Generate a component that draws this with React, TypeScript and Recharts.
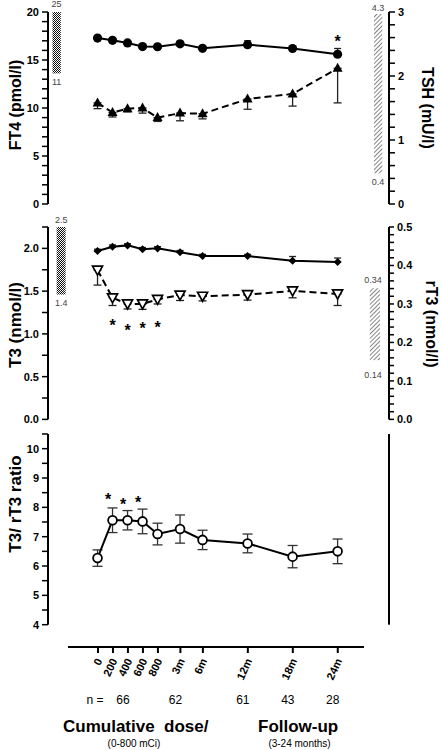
import React from "react";
import {
  ErrorBar,
  Line,
  LineChart,
  ReferenceArea,
  ReferenceDot,
  XAxis,
  YAxis
} from "recharts";

if (typeof document !== "undefined") {
  document.body.style.margin = "0";
  document.body.style.background = "#fff";
}

const FONT = "'Liberation Sans', Arial, sans-serif";

// x: cumulative dose (mCi) then follow-up (months)
const doses = [0, 200, 400, 600, 800];
const months = [3, 6, 12, 18, 24];
const xLabels = ["0", "200", "400", "600", "800", "3m", "6m", "12m", "18m", "24m"];

// panel 1
const ft4 = [17.28, 17.05, 16.78, 16.4, 16.38, 16.68, 16.22, 16.6, 16.2, 15.6];
const ft4Err = [0.2, 0.2, 0.2, 0.2, 0.2, 0.2, 0.2, 0.4, 0.2, 0.6];
const tsh = [1.58, 1.43, 1.49, 1.5, 1.35, 1.42, 1.41, 1.64, 1.72, 2.12];
const tshErr = [0.09, 0.07, 0.05, 0.08, 0.06, 0.12, 0.08, 0.16, 0.19, 0.54];

// panel 2
const t3 = [1.97, 2.02, 2.035, 1.99, 2.0, 1.955, 1.91, 1.91, 1.855, 1.84];
const t3Err = [0.02, 0.02, 0.02, 0.02, 0.02, 0.02, 0.02, 0.02, 0.05, 0.047];
const rt3 = [0.388, 0.316, 0.3, 0.3, 0.312, 0.323, 0.32, 0.324, 0.334, 0.326];
const rt3Err = [0.039, 0.02, 0.013, 0.014, 0.012, 0.014, 0.012, 0.014, 0.018, 0.03];

// panel 3
const ratio = [6.27, 7.56, 7.56, 7.52, 7.09, 7.26, 6.89, 6.77, 6.32, 6.5];
const ratioErr = [0.28, 0.42, 0.33, 0.42, 0.37, 0.48, 0.33, 0.32, 0.38, 0.42];

// significance marks
const ft4StarAt = ["24m"];
const ft4StarY = [17.3];
const t3StarAt = ["200", "400", "600", "800"];
const t3StarY = [1.14, 1.08, 1.1, 1.115];
const ratioStarAt = ["200", "400", "600"];
const ratioStarY = [8.37, 8.23, 8.3];

// patients per time point
const nCounts = ["66", "62", "61", "43", "28"];
const nAt = ["400", "3m", "12m", "18m", "24m"];

// normal ranges (label text + extent of the bar in axis units)
const ft4Range = ["25", "11"];
const ft4Bar = [13.6, 20];
const tshRange = ["4.3", "0.4"];
const tshBar = [0.48, 2.97];
const t3Range = ["2.5", "1.4"];
const t3Bar = [1.46, 2.25];
const rt3Range = ["0.34", "0.14"];
const rt3Bar = [0.154, 0.341];

const xPos = [...doses.map((d) => d / 100), ...months.map((m) => 8 + m)];
const posOf = (label: string) => xPos[xLabels.indexOf(label)];

const rows = xLabels.map((label, i) => ({
  label,
  x: xPos[i],
  ft4: ft4[i],
  ft4Err: [0, ft4Err[i]],
  tsh: tsh[i],
  tshErr: [tshErr[i], 0],
  t3: t3[i],
  t3Err: [0, t3Err[i]],
  rt3: rt3[i],
  rt3Err: [rt3Err[i], 0],
  ratio: ratio[i],
  ratioErr: ratioErr[i]
}));

const X_DOMAIN = [-6.6, 38.85];

const steps = (lo: number, hi: number, step: number) =>
  Array.from({ length: Math.round((hi - lo) / step) + 1 }, (_, i) =>
    Math.round((lo + i * step) * 1000) / 1000
  );

const majorOnly = (every: number, digits: number) => (v: number) => {
  const r = v / every;
  return Math.abs(r - Math.round(r)) < 1e-6 ? v.toFixed(digits) : "";
};

const axisProps: any = {
  axisLine: { stroke: "#000", strokeWidth: 2 },
  tickLine: { stroke: "#000", strokeWidth: 1.5 },
  tickSize: 6,
  tickMargin: 3,
  interval: 0,
  allowDataOverflow: true,
  tick: { fontSize: 11, fontWeight: 700, fill: "#000", fontFamily: FONT }
};

function CircleDot(props: any) {
  const { cx, cy } = props;
  if (cx == null || cy == null) return null;
  return <circle cx={cx} cy={cy} r={4.6} fill="#000" />;
}

function OpenCircle(props: any) {
  const { cx, cy } = props;
  if (cx == null || cy == null) return null;
  return <circle cx={cx} cy={cy} r={4.4} fill="#fff" stroke="#000" strokeWidth={1.8} />;
}

function TriUp(props: any) {
  const { cx, cy } = props;
  if (cx == null || cy == null) return null;
  return (
    <polygon
      points={`${cx},${cy - 5.5} ${cx - 5},${cy + 3.5} ${cx + 5},${cy + 3.5}`}
      fill="#000"
    />
  );
}

function TriDownOpen(props: any) {
  const { cx, cy } = props;
  if (cx == null || cy == null) return null;
  return (
    <polygon
      points={`${cx - 5},${cy - 4} ${cx + 5},${cy - 4} ${cx},${cy + 5}`}
      fill="#fff"
      stroke="#000"
      strokeWidth={1.7}
    />
  );
}

function Diamond(props: any) {
  const { cx, cy } = props;
  if (cx == null || cy == null) return null;
  return (
    <polygon
      points={`${cx},${cy - 4} ${cx + 4},${cy} ${cx},${cy + 4} ${cx - 4},${cy}`}
      fill="#000"
    />
  );
}

function Star(dx: number) {
  return (p: any) => (
    <text
      x={p.cx + dx}
      y={p.cy + 9}
      textAnchor="middle"
      fontSize={16}
      fontWeight={700}
      fontFamily={FONT}
      fill="#000"
    >
      *
    </text>
  );
}

function RangeLabel(props: any) {
  const { viewBox, hi, lo, topGap, bottomGap, dx = 0 } = props;
  if (!viewBox) return null;
  const cx = viewBox.x + viewBox.width / 2 + dx;
  const style = { fontSize: 9, fill: "#444", fontFamily: FONT };
  return (
    <g>
      <text x={cx} y={viewBox.y - topGap} textAnchor="middle" {...style}>
        {hi}
      </text>
      <text x={cx} y={viewBox.y + viewBox.height + bottomGap} textAnchor="middle" {...style}>
        {lo}
      </text>
    </g>
  );
}

function XTick(props: any) {
  const { x, y, payload } = props;
  const i = xPos.indexOf(payload.value);
  const label = xLabels[i];
  const n = nAt.indexOf(label);
  const nStyle = { fontSize: 12, fill: "#000", fontFamily: FONT };
  return (
    <g>
      <text
        transform={`translate(${x + 1},${y + 6}) rotate(-65)`}
        textAnchor="end"
        dominantBaseline="central"
        fontSize={11}
        fontWeight={700}
        fontFamily={FONT}
        fill="#000"
      >
        {label}
      </text>
      {i === 0 && (
        <text x={x + 5.5} y={y + 47} textAnchor="end" dominantBaseline="central" {...nStyle}>
          n =
        </text>
      )}
      {n >= 0 && (
        <text x={x - 5} y={y + 47} textAnchor="middle" dominantBaseline="central" {...nStyle}>
          {nCounts[n]}
        </text>
      )}
    </g>
  );
}

const Patterns = () => (
  <defs>
    <pattern id="checker" width="2" height="2" patternUnits="userSpaceOnUse">
      <rect x="0" y="0" width="1" height="1" fill="#111" />
      <rect x="1" y="1" width="1" height="1" fill="#111" />
    </pattern>
    <pattern
      id="hatch"
      width="3"
      height="3"
      patternUnits="userSpaceOnUse"
      patternTransform="rotate(45)"
    >
      <line x1="0" y1="0" x2="0" y2="3" stroke="#333" strokeWidth="1.2" />
    </pattern>
  </defs>
);

const errProps = { width: 4, stroke: "#222", strokeWidth: 1.3, direction: "y" as const };

export default function App() {
  return (
    <div
      style={{
        position: "relative",
        width: 441,
        height: 750,
        background: "#fff",
        fontFamily: FONT,
        overflow: "hidden"
      }}
    >
      {/* FT4 / TSH */}
      <div style={{ position: "absolute", left: 0, top: 0 }}>
        <LineChart width={441} height={214} data={rows} margin={{ top: 12, right: 0, bottom: 10, left: 0 }}>
          <Patterns />
          <XAxis type="number" dataKey="x" domain={X_DOMAIN} hide allowDataOverflow />
          <YAxis
            yAxisId="ft4"
            orientation="left"
            width={48}
            domain={[0, 20]}
            ticks={steps(0, 20, 1)}
            tickFormatter={majorOnly(5, 0)}
            {...axisProps}
          />
          <YAxis
            yAxisId="tsh"
            orientation="right"
            width={52}
            domain={[0, 3]}
            ticks={steps(0, 3, 0.2)}
            tickFormatter={majorOnly(1, 0)}
            {...axisProps}
          />
          <ReferenceArea
            yAxisId="ft4"
            x1={-6.0}
            x2={-4.9}
            y1={ft4Bar[0]}
            y2={ft4Bar[1]}
            fill="url(#checker)"
            fillOpacity={1}
            stroke="none"
            ifOverflow="visible"
            label={<RangeLabel hi={ft4Range[0]} lo={ft4Range[1]} topGap={5} bottomGap={12} />}
          />
          <ReferenceArea
            yAxisId="tsh"
            x1={36.85}
            x2={37.95}
            y1={tshBar[0]}
            y2={tshBar[1]}
            fill="url(#hatch)"
            fillOpacity={1}
            stroke="none"
            ifOverflow="visible"
            label={<RangeLabel hi={tshRange[0]} lo={tshRange[1]} topGap={3} bottomGap={12} />}
          />
          <Line
            yAxisId="tsh"
            dataKey="tsh"
            stroke="#000"
            strokeWidth={2}
            strokeDasharray="7 4"
            dot={(p: any) => <TriUp key={p.index} {...p} />}
            isAnimationActive={false}
          >
            <ErrorBar dataKey="tshErr" {...errProps} />
          </Line>
          <Line
            yAxisId="ft4"
            dataKey="ft4"
            stroke="#000"
            strokeWidth={2}
            dot={(p: any) => <CircleDot key={p.index} {...p} />}
            isAnimationActive={false}
          >
            <ErrorBar dataKey="ft4Err" {...errProps} width={3.5} />
          </Line>
          {ft4StarAt.map((at, i) => (
            <ReferenceDot key={at} yAxisId="ft4" x={posOf(at)} y={ft4StarY[i]} r={0} shape={Star(0)} />
          ))}
        </LineChart>
      </div>

      {/* T3 / rT3 */}
      <div style={{ position: "absolute", left: 0, top: 206.9 }}>
        <LineChart width={441} height={222.4} data={rows} margin={{ top: 20, right: 0, bottom: 10, left: 0 }}>
          <XAxis type="number" dataKey="x" domain={X_DOMAIN} hide allowDataOverflow />
          <YAxis
            yAxisId="t3"
            orientation="left"
            width={48}
            domain={[0, 2.25]}
            ticks={steps(0, 2.25, 0.25)}
            tickFormatter={majorOnly(0.5, 1)}
            {...axisProps}
          />
          <YAxis
            yAxisId="rt3"
            orientation="right"
            width={52}
            domain={[0, 0.5]}
            ticks={steps(0, 0.5, 0.02)}
            tickFormatter={majorOnly(0.1, 1)}
            {...axisProps}
            tickSize={5}
          />
          <ReferenceArea
            yAxisId="t3"
            x1={-5.45}
            x2={-4.25}
            y1={t3Bar[0]}
            y2={t3Bar[1]}
            fill="url(#checker)"
            fillOpacity={1}
            stroke="none"
            ifOverflow="visible"
            label={<RangeLabel hi={t3Range[0]} lo={t3Range[1]} topGap={4} bottomGap={11} />}
          />
          <ReferenceArea
            yAxisId="rt3"
            x1={36.3}
            x2={37.65}
            y1={rt3Bar[0]}
            y2={rt3Bar[1]}
            fill="url(#hatch)"
            fillOpacity={1}
            stroke="none"
            ifOverflow="visible"
            label={<RangeLabel hi={rt3Range[0]} lo={rt3Range[1]} topGap={5} bottomGap={18} dx={-2} />}
          />
          <Line
            yAxisId="rt3"
            dataKey="rt3"
            stroke="#000"
            strokeWidth={2}
            strokeDasharray="7 4"
            dot={(p: any) => <TriDownOpen key={p.index} {...p} />}
            isAnimationActive={false}
          >
            <ErrorBar dataKey="rt3Err" {...errProps} />
          </Line>
          <Line
            yAxisId="t3"
            dataKey="t3"
            stroke="#000"
            strokeWidth={2}
            dot={(p: any) => <Diamond key={p.index} {...p} />}
            isAnimationActive={false}
          >
            <ErrorBar dataKey="t3Err" {...errProps} width={3.5} />
          </Line>
          {t3StarAt.map((at, i) => (
            <ReferenceDot key={at} yAxisId="t3" x={posOf(at)} y={t3StarY[i]} r={0} shape={Star(0)} />
          ))}
        </LineChart>
      </div>

      {/* T3 / rT3 ratio */}
      <div style={{ position: "absolute", left: 0, top: 424.3 }}>
        <LineChart width={441} height={210.7} data={rows} margin={{ top: 10, right: 0, bottom: 10, left: 0 }}>
          <XAxis type="number" dataKey="x" domain={X_DOMAIN} hide allowDataOverflow />
          <YAxis
            yAxisId="ratio"
            orientation="left"
            width={48}
            domain={[4, 10.5]}
            ticks={steps(4, 10.5, 0.5)}
            tickFormatter={majorOnly(1, 0)}
            {...axisProps}
          />
          <YAxis
            yAxisId="side"
            orientation="right"
            width={52}
            domain={[4, 10.5]}
            tick={false}
            tickLine={false}
            axisLine={{ stroke: "#000", strokeWidth: 2 }}
            allowDataOverflow
          />
          <Line
            yAxisId="ratio"
            dataKey="ratio"
            stroke="#000"
            strokeWidth={2}
            dot={(p: any) => <OpenCircle key={p.index} {...p} />}
            isAnimationActive={false}
          >
            <ErrorBar dataKey="ratioErr" {...errProps} width={5} stroke="#333" />
          </Line>
          {ratioStarAt.map((at, i) => (
            <ReferenceDot key={at} yAxisId="ratio" x={posOf(at)} y={ratioStarY[i]} r={0} shape={Star(-4.5)} />
          ))}
        </LineChart>
      </div>

      {/* shared x axis + n row */}
      <div style={{ position: "absolute", left: 0, top: 600 }}>
        <LineChart width={441} height={150} data={rows} margin={{ top: 0, right: 77, bottom: 0, left: 68 }}>
          <XAxis
            type="number"
            dataKey="x"
            domain={[-4, 35.5]}
            ticks={xPos}
            interval={0}
            height={103}
            tickSize={6}
            tickMargin={0}
            axisLine={{ stroke: "#000", strokeWidth: 2 }}
            tickLine={{ stroke: "#000", strokeWidth: 2 }}
            tick={<XTick />}
            allowDataOverflow
          />
          <YAxis hide />
          <Line dataKey="ratio" stroke="none" dot={false} isAnimationActive={false} />
        </LineChart>
      </div>

      {/* axis titles and footer */}
      <svg
        width={441}
        height={750}
        style={{ position: "absolute", left: 0, top: 0, pointerEvents: "none" }}
        fontFamily={FONT}
        fontWeight={700}
      >
        <text transform="translate(15,105) rotate(-90)" textAnchor="middle" dominantBaseline="central" fontSize={16}>
          FT4 (pmol/l)
        </text>
        <text transform="translate(427,108) rotate(90)" textAnchor="middle" dominantBaseline="central" fontSize={16}>
          TSH (mU/l)
        </text>
        <text transform="translate(15,325) rotate(-90)" textAnchor="middle" dominantBaseline="central" fontSize={17}>
          T3 (nmol/l)
        </text>
        <text transform="translate(431,324) rotate(90)" textAnchor="middle" dominantBaseline="central" fontSize={16}>
          rT3 (nmol/l)
        </text>
        <text transform="translate(15,504) rotate(-90)" textAnchor="middle" dominantBaseline="central" fontSize={17}>
          T3/ rT3 ratio
        </text>
        <text x={63} y={732} fontSize={17} xmlSpace="preserve">
          Cumulative  dose/
        </text>
        <text x={258} y={732} fontSize={17}>
          Follow-up
        </text>
        <text x={134} y={747} fontSize={10} fontWeight={400} textAnchor="middle">
          (0-800 mCi)
        </text>
        <text x={299.5} y={747} fontSize={10} fontWeight={400} textAnchor="middle">
          (3-24 months)
        </text>
      </svg>
    </div>
  );
}
